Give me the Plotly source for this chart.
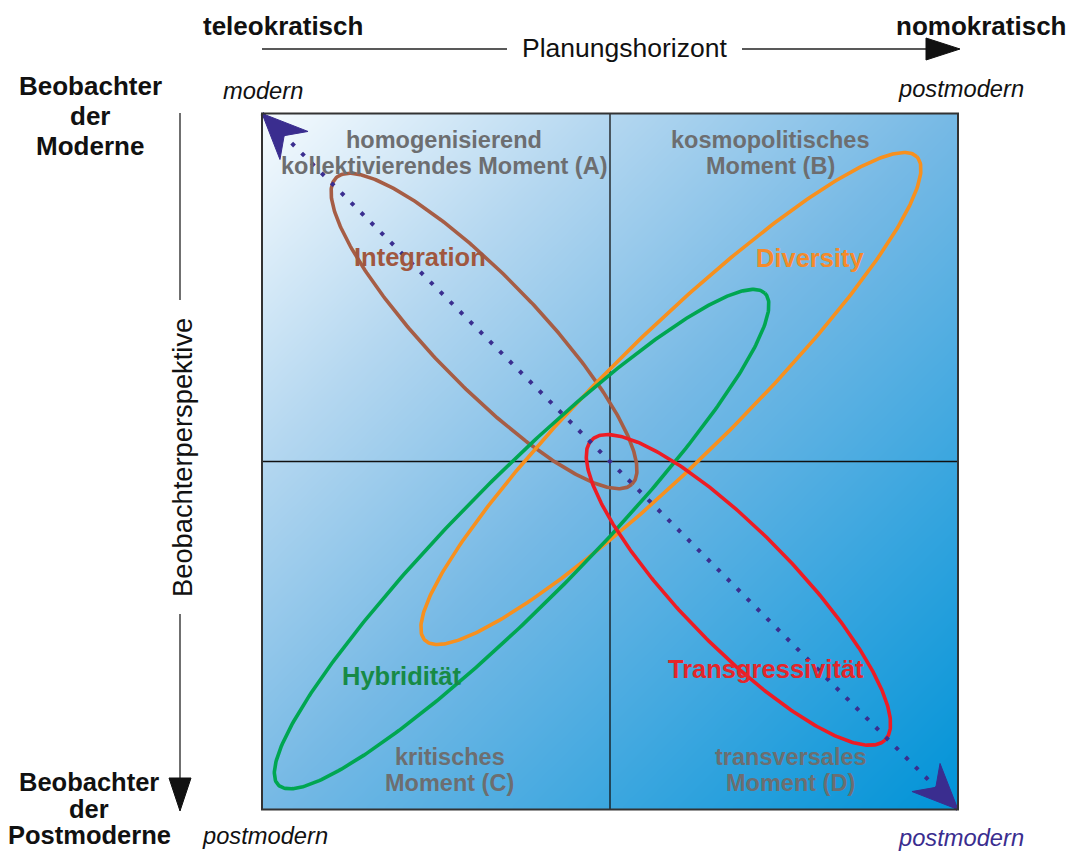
import numpy as np
import plotly.graph_objects as go

# ---------------- data ----------------
BOX_MIN, BOX_MAX = -10.0, 10.0

quadrant_text = [
    ["homogenisierend", "kollektivierendes Moment (A)"],
    ["kosmopolitisches", "Moment (B)"],
    ["kritisches", "Moment (C)"],
    ["transversales", "Moment (D)"],
]
quadrant_x = [-4.77, 4.6, -4.6, 5.2]
quadrant_y = [8.87, 8.86, -8.86, -8.86]

ellipse_names = ["Integration", "Diversity", "Hybridität", "Transgressivität"]
ellipse_cx = [-3.62, 1.75, -2.54, 3.69]
ellipse_cy = [3.75, 1.81, -2.23, -3.69]
ellipse_a = [6.12, 9.91, 9.94, 6.03]
ellipse_b = [1.55, 1.84, 1.78, 1.64]
ellipse_angle = [-46.0, 44.5, 45.3, -45.7]
ellipse_line_colors = ["#a65d45", "#f7901e", "#00a651", "#ed1c24"]
ellipse_text_colors = ["#a0573f", "#f58a2a", "#178a46", "#e4262b"]
label_x = [-5.46, 5.75, -5.98, 4.48]
label_y = [5.88, 5.85, -6.16, -5.96]

# ---------------- geometry helpers ----------------
W, H = 1070, 854
CX, CY, S = 610.0, 461.5, 34.8  # pixel centre of box and px per unit


def dx(px):
    return (px - CX) / S


def dy(py):
    return (CY - py) / S


def px_(p):
    return p / W


def py_(p):
    return 1 - p / H


fig = go.Figure()

# gradient background
n = 120
step = (BOX_MAX - BOX_MIN) / n
gx = BOX_MIN + step / 2 + step * np.arange(n)
gy = BOX_MIN + step / 2 + step * np.arange(n)
GX, GY = np.meshgrid(gx, gy)
Z = GX - GY
fig.add_trace(go.Heatmap(
    x=gx, y=gy, z=Z, zsmooth="best", showscale=False, hoverinfo="skip",
    zmin=-20, zmax=20,
    colorscale=[[0, "#f6fbfe"], [0.25, "#b4d7f0"], [0.5, "#76b9e5"],
                [0.75, "#3aa6df"], [1, "#0093d7"]],
))

# quadrant lines
fig.add_trace(go.Scatter(x=[0, 0, None, BOX_MIN, BOX_MAX], y=[BOX_MIN, BOX_MAX, None, 0, 0],
                         mode="lines", line=dict(color="#111", width=1.3),
                         hoverinfo="skip", showlegend=False))

# ellipses
t = np.linspace(0, 2 * np.pi, 400)
for i in range(4):
    th = np.deg2rad(ellipse_angle[i])
    ex = ellipse_a[i] * np.cos(t)
    ey = ellipse_b[i] * np.sin(t)
    x = ellipse_cx[i] + ex * np.cos(th) - ey * np.sin(th)
    y = ellipse_cy[i] + ex * np.sin(th) + ey * np.cos(th)
    fig.add_trace(go.Scatter(x=x, y=y, mode="lines", hoverinfo="skip",
                             line=dict(color=ellipse_line_colors[i], width=3.6),
                             showlegend=False))

# dotted diagonal arrow
diag_x = [BOX_MIN, BOX_MAX]
diag_y = [BOX_MAX, BOX_MIN]
NAVY = "#3a2d8f"
fig.add_trace(go.Scatter(x=diag_x, y=diag_y, mode="lines", hoverinfo="skip",
                         line=dict(color=NAVY, width=4, dash="4px,10px"),
                         showlegend=False))


def arrow_head(tipx, tipy, ux, uy, L=1.3, Wd=0.57, N=0.9):
    nx, ny = -uy, ux
    xs = [tipx, tipx - L * ux + Wd * nx, tipx - N * ux, tipx - L * ux - Wd * nx, tipx]
    ys = [tipy, tipy - L * uy + Wd * ny, tipy - N * uy, tipy - L * uy - Wd * ny, tipy]
    return xs, ys


r = np.sqrt(2) / 2
for (tx, ty, ux, uy) in [(diag_x[0], diag_y[0], -r, r), (diag_x[1], diag_y[1], r, -r)]:
    hx, hy = arrow_head(tx, ty, ux, uy)
    fig.add_trace(go.Scatter(x=hx, y=hy, mode="lines", fill="toself",
                             fillcolor=NAVY, line=dict(color=NAVY, width=1),
                             hoverinfo="skip", showlegend=False))

# box border
shapes = [
    dict(type="rect", x0=BOX_MIN, x1=BOX_MAX, y0=BOX_MIN, y1=BOX_MAX, line=dict(color="#333", width=2)),
]

# outer decorations (paper coords)
BLACK = "#111111"
shapes += [
    dict(type="line", xref="paper", yref="paper", x0=px_(262), x1=px_(507), y0=py_(49), y1=py_(49),
         line=dict(color="#222", width=1.3)),
    dict(type="line", xref="paper", yref="paper", x0=px_(742), x1=px_(932), y0=py_(49), y1=py_(49),
         line=dict(color="#222", width=1.3)),
    dict(type="path", xref="paper", yref="paper",
         path=f"M {px_(926)} {py_(38)} L {px_(960)} {py_(49)} L {px_(926)} {py_(60)} Z",
         fillcolor=BLACK, line=dict(color=BLACK, width=1)),
    dict(type="line", xref="paper", yref="paper", x0=px_(180), x1=px_(180), y0=py_(113), y1=py_(300),
         line=dict(color="#222", width=1.3)),
    dict(type="line", xref="paper", yref="paper", x0=px_(180), x1=px_(180), y0=py_(614), y1=py_(785),
         line=dict(color="#222", width=1.3)),
    dict(type="path", xref="paper", yref="paper",
         path=f"M {px_(169)} {py_(778)} L {px_(180)} {py_(811)} L {px_(191)} {py_(778)} Z",
         fillcolor=BLACK, line=dict(color=BLACK, width=1)),
]

FONT = "Liberation Sans, Arial, sans-serif"
ann = []


def add_text(text, x, y, size, color="#111", bold=False, italic=False, xref="paper", yref="paper",
             xanchor="center", angle=0):
    if bold:
        text = f"<b>{text}</b>"
    if italic:
        text = f"<i>{text}</i>"
    ann.append(dict(text=text, x=x, y=y, xref=xref, yref=yref, showarrow=False,
                    xanchor=xanchor, yanchor="middle", textangle=angle,
                    font=dict(family=FONT, size=size, color=color)))


# header texts
add_text("teleokratisch", px_(283), py_(26), 26, bold=True)
add_text("nomokratisch", px_(1069), py_(26), 26, bold=True, xanchor="right")
add_text("Planungshorizont", px_(624), py_(48), 26.5)
add_text("modern", px_(263), py_(91), 23.7, italic=True)
add_text("postmodern", px_(961), py_(89), 23.7, italic=True)
add_text("postmodern", px_(265), py_(836), 23.7, italic=True)
add_text("postmodern", px_(961), py_(838), 23.7, italic=True, color=NAVY)
for k, line in enumerate(["Beobachter", "der", "Moderne"]):
    add_text(line, px_(90), py_(86 + 30 * k), 26, bold=True)
for k, line in enumerate(["Beobachter", "der", "Postmoderne"]):
    add_text(line, px_(89), py_(782 + 26.5 * k), 25.5, bold=True)
add_text("Beobachterperspektive", px_(182), py_(458), 27.3, angle=-90)

# quadrant labels
for i in range(4):
    for k, line in enumerate(quadrant_text[i]):
        add_text(line, quadrant_x[i], quadrant_y[i] + (0.37 if k == 0 else -0.37), 23.5,
                 color="#6d6e70", bold=True, xref="x", yref="y")

# ellipse labels
for i in range(4):
    add_text(ellipse_names[i], label_x[i], label_y[i], 25.5, color=ellipse_text_colors[i],
             bold=True, xref="x", yref="y")

fig.update_layout(
    width=W, height=H, autosize=False,
    margin=dict(l=0, r=0, t=0, b=0, pad=0),
    paper_bgcolor="white", plot_bgcolor="white",
    showlegend=False,
    shapes=shapes, annotations=ann,
    xaxis=dict(range=[dx(0), dx(W)], visible=False, fixedrange=True, domain=[0, 1]),
    yaxis=dict(range=[dy(H), dy(0)], visible=False, fixedrange=True, domain=[0, 1]),
)

fig.write_html("out.html", config={"displayModeBar": False},
               post_script="document.body.style.margin='0';document.body.style.overflow='hidden';")
